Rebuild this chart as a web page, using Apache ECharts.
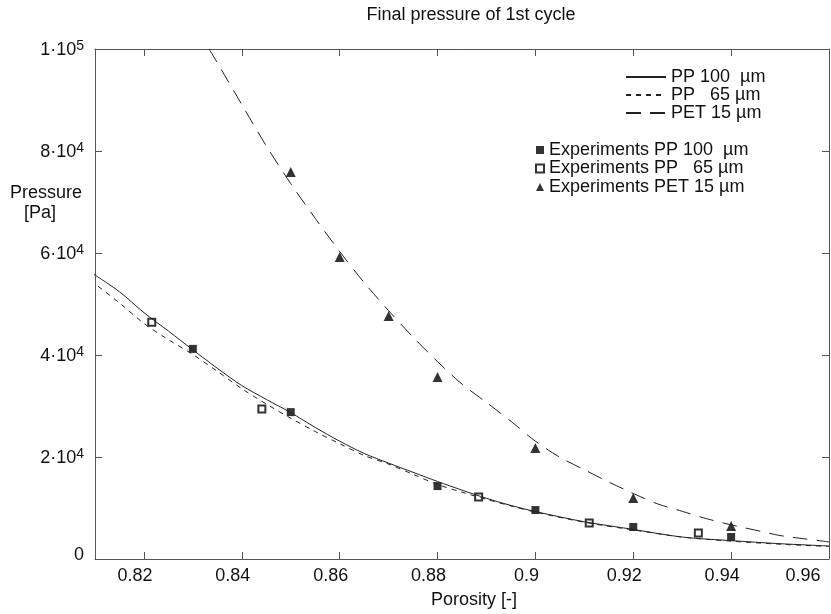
<!DOCTYPE html>
<html>
<head>
<meta charset="utf-8">
<script src="https://cdn.jsdelivr.net/npm/echarts@6/dist/echarts.min.js"></script>
<style>
html,body{margin:0;padding:0;background:#fff;}
#chart{width:831px;height:614px;}
</style>
</head>
<body>
<div id="chart"></div>
<script>
// ---- Data ----
const xTickValues = [0.82, 0.84, 0.86, 0.88, 0.90, 0.92, 0.94, 0.96];
const xTickLabels = ['0.82','0.84','0.86','0.88','0.9','0.92','0.94','0.96'];
const yTickValues = [0, 20000, 40000, 60000, 80000, 100000];

// Model curves (porosity, pressure [Pa])
const pp100CurveX = [0.809,0.815,0.82,0.825,0.83,0.835,0.84,0.845,0.85,0.855,0.86,0.865,0.87,0.875,0.88,0.885,0.89,0.895,0.90,0.91,0.92,0.93,0.94,0.95,0.96];
const pp100CurveY = [56300,52400,48300,44700,41000,37400,34000,31300,28700,25800,23100,20700,18800,17000,15200,13500,11900,10500,9300,7300,5800,4300,3600,3000,2550];

const pp65CurveX = [0.809,0.815,0.82,0.825,0.83,0.835,0.84,0.845,0.85,0.855,0.86,0.865,0.87,0.875,0.88,0.885,0.89,0.895,0.90,0.91,0.92,0.93,0.94,0.95,0.96];
const pp65CurveY = [54700,50200,46200,43000,40100,36800,33400,30400,27600,25000,22600,20300,18600,16600,14600,13100,11700,10400,9200,7200,5700,4300,3500,2900,2450];

const pet15CurveX = [0.8333,0.835,0.84,0.845,0.85,0.855,0.86,0.865,0.87,0.875,0.88,0.885,0.89,0.895,0.90,0.905,0.91,0.915,0.92,0.925,0.93,0.935,0.94,0.945,0.95,0.955,0.96];
const pet15CurveY = [100000,97300,89100,81000,73600,66800,60300,54200,48700,43500,38700,34300,30700,27000,23100,19950,17500,15100,12850,10800,9350,7900,6700,5650,4600,3950,3350];

// Experiments
const expPP100X = [0.83,0.85,0.88,0.90,0.92,0.94];
const expPP100Y = [41200,28800,14300,9600,6270,4310];

const expPP65X = [0.8216,0.8441,0.8884,0.911,0.9333];
const expPP65Y = [46400,29400,12160,7060,5100];

const expPET15X = [0.85,0.86,0.87,0.88,0.90,0.92,0.94];
const expPET15Y = [75900,59200,47650,35700,21760,11960,6470];

const seriesNames = ['PP 100  µm','PP   65 µm','PET 15 µm',
  'Experiments PP 100  µm','Experiments PP   65 µm','Experiments PET 15 µm'];

// ---- Chart ----
const zip = (xs, ys) => xs.map((x, i) => [x, ys[i]]);
const FONT = '"Liberation Sans", Arial, Helvetica, sans-serif';
const ink = '#111';
const axisCol = '#555';

const chart = echarts.init(document.getElementById('chart'), null, {renderer: 'canvas'});

const commonAxisLine = {show: true, onZero: false, lineStyle: {color: axisCol, width: 1}};
const xTick = {show: true, inside: true, length: 7, customValues: xTickValues, lineStyle: {color: axisCol, width: 1}};
const yTick = {show: true, inside: true, length: 7, lineStyle: {color: axisCol, width: 1}};

const option = {
  backgroundColor: '#fff',
  animation: false,
  textStyle: {fontFamily: FONT},
  grid: {left: 95, right: 2, top: 49, bottom: 55, containLabel: false},
  xAxis: [
    {
      type: 'value', min: 0.81, max: 0.96, interval: 0.01, position: 'bottom',
      axisLine: commonAxisLine, axisTick: xTick,
      splitLine: {show: false},
      axisLabel: {
        show: true, margin: 8, color: ink, fontFamily: FONT, fontSize: 18,
        customValues: xTickValues,
        formatter: function (v) {
          const k = Math.round(v * 100);
          const idx = xTickValues.findIndex(t => Math.abs(t - v) < 1e-6);
          if (idx < 0) return '';
          const s = xTickLabels[idx];
          if (k === 96) return '{z|' + s + '}';
          return '{a|' + s + '}';
        },
        rich: {
          a: {fontSize: 18, fontFamily: FONT, color: ink, padding: [0, 18, 0, 0]},
          z: {fontSize: 18, fontFamily: FONT, color: ink, padding: [0, 52, 0, 0]}
        }
      }
    },
    {
      type: 'value', min: 0.81, max: 0.96, interval: 0.01, position: 'top',
      axisLine: commonAxisLine, axisTick: xTick,
      splitLine: {show: false}, axisLabel: {show: false}
    }
  ],
  yAxis: [
    {
      type: 'value', min: 0, max: 100000, interval: 20000, position: 'left',
      axisLine: commonAxisLine, axisTick: yTick,
      splitLine: {show: false},
      axisLabel: {
        show: true, margin: 11, color: ink, fontFamily: FONT,
        formatter: function (v) {
          if (yTickValues.indexOf(v) < 0) return '';
          if (v === 0) return '{b|0}';
          if (v === 100000) return '{h| }{b|1·10}{s|5}';
          return '{h| }{b|' + (v / 10000) + '·10}{s|4}';
        },
        rich: {
          b: {fontSize: 18, fontFamily: FONT, color: ink, lineHeight: 10, verticalAlign: 'bottom'},
          s: {fontSize: 14, fontFamily: FONT, color: ink, lineHeight: 10, verticalAlign: 'top'},
          h: {fontSize: 1, lineHeight: 20}
        }
      }
    },
    {
      type: 'value', min: 0, max: 100000, interval: 20000, position: 'right',
      axisLine: commonAxisLine, axisTick: yTick,
      splitLine: {show: false}, axisLabel: {show: false}
    }
  ],
  legend: [
    {
      data: seriesNames.slice(0, 3), orient: 'vertical', left: 620, top: 63,
      itemWidth: 40, itemHeight: 10, itemGap: 0, selectedMode: false,
      itemStyle: {opacity: 0},
      textStyle: {fontSize: 18, lineHeight: 18, color: ink, fontFamily: FONT}
    },
    {
      data: seriesNames.slice(3), orient: 'vertical', left: 530, top: 136,
      itemWidth: 8, itemHeight: 8, itemGap: 0.5, selectedMode: false,
      textStyle: {fontSize: 18, lineHeight: 18, color: ink, fontFamily: FONT}
    }
  ],
  graphic: [
    {type: 'text', x: 471, y: 15, style: {text: 'Final pressure of 1st cycle', font: '18px ' + FONT, fill: ink, textAlign: 'center', textVerticalAlign: 'middle'}},
    {type: 'text', x: 46, y: 193, style: {text: 'Pressure', font: '18px ' + FONT, fill: ink, textAlign: 'center', textVerticalAlign: 'middle'}},
    {type: 'text', x: 40, y: 213, style: {text: '[Pa]', font: '18px ' + FONT, fill: ink, textAlign: 'center', textVerticalAlign: 'middle'}},
    {type: 'text', x: 474, y: 600, style: {text: 'Porosity [-]', font: '18px ' + FONT, fill: ink, textAlign: 'center', textVerticalAlign: 'middle'}}
  ],
  series: [
    {
      name: seriesNames[0], type: 'line', data: zip(pp100CurveX, pp100CurveY),
      smooth: 0.3, symbol: 'none', showSymbol: false, clip: true,
      lineStyle: {color: '#222', width: 1, type: 'solid'}, itemStyle: {color: '#222'}
    },
    {
      name: seriesNames[1], type: 'line', data: zip(pp65CurveX, pp65CurveY),
      smooth: 0.3, symbol: 'none', showSymbol: false, clip: true,
      lineStyle: {color: '#222', width: 1, type: [5, 5]}, itemStyle: {color: '#222'}
    },
    {
      name: seriesNames[2], type: 'line', data: zip(pet15CurveX, pet15CurveY),
      smooth: 0.3, symbol: 'none', showSymbol: false, clip: true,
      lineStyle: {color: '#222', width: 1, type: [15, 9]}, itemStyle: {color: '#222'}
    },
    {
      name: seriesNames[3], type: 'scatter', data: zip(expPP100X, expPP100Y),
      symbol: 'rect', symbolSize: 8, itemStyle: {color: '#000'}
    },
    {
      name: seriesNames[4], type: 'scatter', data: zip(expPP65X, expPP65Y),
      symbol: 'emptyRect', symbolSize: 7, itemStyle: {color: '#000', borderColor: '#000', borderWidth: 1.6}
    },
    {
      name: seriesNames[5], type: 'scatter', data: zip(expPET15X, expPET15Y),
      symbol: 'triangle', symbolSize: 10, itemStyle: {color: '#000'}
    }
  ]
};
chart.setOption(option);
</script>
</body>
</html>
